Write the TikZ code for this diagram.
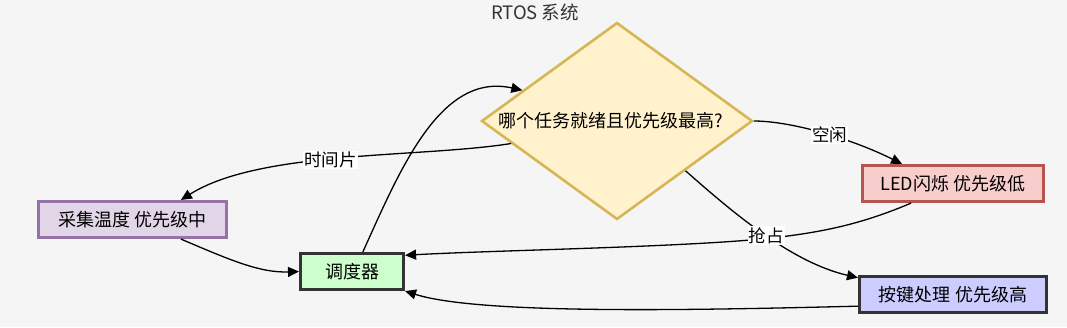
\documentclass[tikz,border=0pt]{standalone}
\usepackage{fontspec}
\setmainfont{Noto Sans CJK SC}
\usetikzlibrary{arrows.meta,shapes.geometric}
\definecolor{bgc}{HTML}{F5F5F5}
\definecolor{diafill}{HTML}{FFF2CC}
\definecolor{diadraw}{HTML}{D6B656}
\definecolor{caifill}{HTML}{E1D5E7}
\definecolor{caidraw}{HTML}{9673A6}
\definecolor{diaofill}{HTML}{CCFFCC}
\definecolor{darkdraw}{HTML}{333333}
\definecolor{ledfill}{HTML}{F8CECC}
\definecolor{leddraw}{HTML}{B85450}
\definecolor{ajfill}{HTML}{CCCCFF}
\begin{document}
\begin{tikzpicture}[x=1pt,y=-1pt,
  box/.style={draw, line width=2.6pt, inner sep=0pt, minimum height=36.5pt, font=\fontsize{18}{20}\selectfont},
  lbl/.style={fill=white, inner sep=1pt, font=\fontsize{17.5}{19}\selectfont},
  conn/.style={line width=1.3pt, -{Triangle[length=11pt,width=10pt]}}]
\useasboundingbox[fill=bgc] (0,0) rectangle (1067,327);
\node[text=darkdraw, font=\fontsize{18.5}{20}\selectfont] (title) at (535,12) {RTOS 系统};
\node[diamond, draw=diadraw, fill=diafill, line width=2.6pt, inner sep=0pt, minimum width=271pt, minimum height=197pt] (dia) at (617,121) {};
\node[font=\fontsize{18}{20}\selectfont] (diat) at (611,121) {哪个任务就绪且优先级最高?};
\node[box, draw=caidraw, fill=caifill, minimum width=188.5pt] (cai) at (132.5,219.5) {采集温度 优先级中};
\node[box, draw=darkdraw, fill=diaofill, minimum width=103.5pt] (diao) at (352,271.5) {调度器};
\node[box, draw=leddraw, fill=ledfill, minimum width=181.5pt] (led) at (953,183.5) {LED闪烁 优先级低};
\node[box, draw=darkdraw, fill=ajfill, minimum width=187.5pt] (aj) at (953,294.5) {按键处理 优先级高};
\coordinate (bend) at (780,237);
% edges
\draw[conn] (dia.192) .. controls (420,158) and (260,150) .. node[lbl, pos=0.53] {时间片} (cai.22);
\draw[conn] (cai.-22) .. controls (230,260) and (260,273) .. (diao.west);
\draw[conn] (diao.61) .. controls (400,170) and (440,72) .. (dia.162);
\draw[conn] (dia.east) .. controls (790,121) and (850,138) .. node[lbl, pos=0.55] {空闲} (led.159);
\draw[conn] (led.205) .. controls (860,225) and (820,232) .. (bend) .. controls (700,247) and (500,250) .. (diao.17);
\draw[conn] (aj.187) .. controls (700,310) and (480,315) .. (diao.south east);
\draw[conn] (dia.-36) .. controls (730,210) and (790,262) .. node[lbl, pos=0.52] {抢占} (aj.170);
\end{tikzpicture}
\end{document}
